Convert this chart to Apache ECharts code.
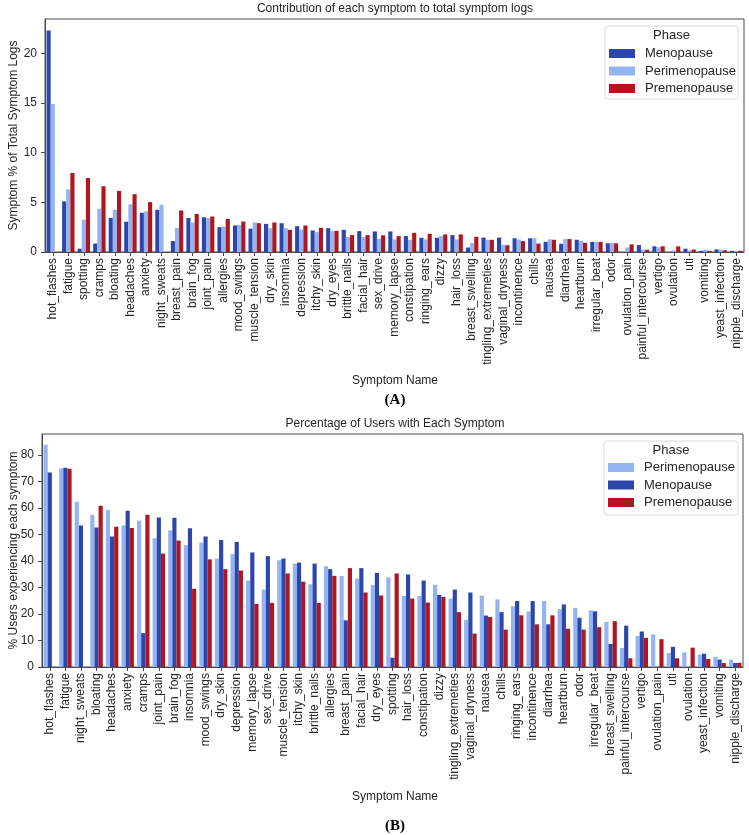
<!DOCTYPE html>
<html>
<head>
<meta charset="utf-8">
<script src="https://cdn.jsdelivr.net/npm/echarts@6/dist/echarts.min.js"></script>
<style>
html,body{margin:0;padding:0;background:#fff;}
#chart{width:749px;height:835px;}
</style>
</head>
<body>
<div id="chart"></div>
<script>
const categoriesA = ["hot_flashes","fatigue","spotting","cramps","bloating","headaches","anxiety","night_sweats","breast_pain","brain_fog","joint_pain","allergies","mood_swings","muscle_tension","dry_skin","insomnia","depression","itchy_skin","dry_eyes","brittle_nails","facial_hair","sex_drive","memory_lapse","constipation","ringing_ears","dizzy","hair_loss","breast_swelling","tingling_extremeties","vaginal_dryness","incontinence","chills","nausea","diarrhea","heartburn","irregular_beat","odor","ovulation_pain","painful_intercourse","vertigo","ovulation","uti","vomiting","yeast_infection","nipple_discharge"];
const menoA = [22.3,5.1,0.33,0.85,3.43,3.05,3.95,4.25,1.1,3.43,3.5,2.5,2.67,2.35,2.83,2.9,2.6,2.17,2.4,2.23,2.1,2.07,2.07,1.6,1.43,1.43,1.7,0.45,1.45,1.45,1.38,1.38,1.02,0.83,1.23,1.02,0.88,null,0.7,0.57,null,0.33,0.12,0.27,0.12];
const periA = [14.9,6.3,3.25,4.35,4.25,4.8,4.1,4.75,2.43,2.97,3.4,2.57,2.73,2.98,2.4,2.4,2.27,2.0,2.1,1.5,1.5,1.33,1.27,1.23,1.27,1.63,1.27,0.9,1.23,0.72,1.25,1.38,1.28,1.3,1.1,1.02,0.92,0.45,0.23,0.48,0.17,0.17,0.25,0.23,0.12];
const preA = [null,7.95,7.45,6.62,6.15,5.82,5.02,null,4.18,3.83,3.57,3.33,3.07,2.9,2.97,2.23,2.67,2.43,2.13,1.7,1.7,1.68,1.6,1.93,1.83,1.77,1.77,1.53,1.23,0.68,1.1,0.85,1.23,1.3,0.93,1.02,0.87,0.77,0.23,0.57,0.57,0.25,0.12,0.17,0.12];
const yTicksA = [0,5,10,15,20];

const categoriesB = ["hot_flashes","fatigue","night_sweats","bloating","headaches","anxiety","cramps","joint_pain","brain_fog","insomnia","mood_swings","dry_skin","depression","memory_lapse","sex_drive","muscle_tension","itchy_skin","brittle_nails","allergies","breast_pain","facial_hair","dry_eyes","spotting","hair_loss","constipation","dizzy","tingling_extremeties","vaginal_dryness","nausea","chills","ringing_ears","incontinence","diarrhea","heartburn","odor","irregular_beat","breast_swelling","painful_intercourse","vertigo","ovulation_pain","uti","ovulation","yeast_infection","vomiting","nipple_discharge"];
const periB = [83.8,74.9,62.3,57.4,59.2,53.4,55.2,48.6,51.6,46.0,46.9,40.9,42.6,32.6,29.2,40.3,39.0,31.2,38.0,34.4,33.4,30.9,33.8,26.8,26.8,31.0,25.8,17.8,26.9,25.5,22.9,20.9,24.9,21.8,22.3,21.4,17.0,7.2,11.7,12.3,5.3,5.5,4.7,3.8,2.8];
const menoB = [73.4,75.2,53.4,52.6,49.2,58.9,12.8,56.4,56.3,52.3,49.2,47.9,47.2,43.2,41.8,40.9,39.4,39.0,36.9,17.6,37.3,35.5,3.5,34.9,32.6,27.2,29.2,28.1,19.4,20.7,24.9,24.9,16.1,23.6,18.6,21.0,8.7,15.6,13.4,null,7.6,null,5.0,2.8,1.5];
const preB = [null,74.8,null,60.8,52.9,52.4,57.4,42.8,47.7,29.5,40.6,36.9,36.4,23.8,24.2,35.3,32.2,24.2,34.4,37.3,28.1,27.0,35.3,25.8,24.3,26.4,20.7,12.6,18.9,14.1,19.5,16.1,19.5,14.4,14.1,15.0,17.3,3.3,11.0,10.5,3.3,7.3,3.0,1.5,1.6];
const yTicksB = [0,10,20,30,40,50,60,70,80];

const phases = ["Menopause","Perimenopause","Premenopause"];
const legendOrderB = ["Perimenopause","Menopause","Premenopause"];

const COL = {Menopause:'#2c46ab', Perimenopause:'#93b3f1', Premenopause:'#b0161f'};
const FONT = 'Liberation Sans, Arial, sans-serif';
const AX = '#4a4a4a';
const TXT = '#262626';

const chart = echarts.init(document.getElementById('chart'), null, {renderer:'canvas'});

function xAx(gi, cats){
  return {
    type:'category', gridIndex:gi, data:cats,
    axisLine:{show:true, lineStyle:{color:AX, width:1}},
    axisTick:{show:true, alignWithLabel:true, length:4, lineStyle:{color:AX}},
    axisLabel:{rotate:90, interval:0, fontSize:12, fontFamily:FONT, color:TXT, margin:6},
    splitLine:{show:false}
  };
}
function yAx(gi, max, ticks, name, gap){
  return {
    type:'value', gridIndex:gi, min:0, max:max,
    name:name, nameLocation:'middle', nameGap:gap, nameRotate:90, nameMoveOverlap:false,
    nameTextStyle:{fontSize:12, fontFamily:FONT, color:TXT},
    axisLine:{show:true, lineStyle:{color:AX, width:1}},
    axisTick:{show:true, length:4, lineStyle:{color:AX}, customValues:ticks},
    axisLabel:{fontSize:12, fontFamily:FONT, color:TXT, margin:8, customValues:ticks},
    splitLine:{show:false}
  };
}
function bar(name, data, xi){
  return {
    type:'bar', name:name, data:data, xAxisIndex:xi, yAxisIndex:xi,
    barGap:'0%', barCategoryGap:'20%',
    itemStyle:{color:COL[name]}, emphasis:{disabled:true}, animation:false
  };
}
function legendBox(x, y, w, h){
  return [
    {type:'rect', shape:{x:x, y:y, width:w, height:h, r:3}, style:{fill:'#fff', stroke:'#d9d9d9', lineWidth:1}, z:10},
    {type:'text', x:x + w/2, y:y + 9, style:{text:'Phase', fontSize:13, fontFamily:FONT, fill:TXT, textAlign:'center', textVerticalAlign:'middle'}, z:11}
  ];
}
function label(text, x, y, size, bold, serif){
  return {type:'text', x:x, y:y, style:{text:text, fontSize:size, fontFamily: serif ? 'Liberation Serif, Times New Roman, serif' : FONT, fontWeight: bold ? 'bold':'normal', fill: serif ? '#000' : TXT, textAlign:'center', textVerticalAlign:'middle'}, z:11};
}

const option = {
  animation:false,
  backgroundColor:'#fff',
  grid:[
    {left:45, right:5, top:19, height:233, show:true, borderColor:AX, borderWidth:1, containLabel:false, outerBoundsMode:'none'},
    {left:42, right:6, top:434, height:233, show:true, borderColor:AX, borderWidth:1, containLabel:false, outerBoundsMode:'none'}
  ],
  xAxis:[xAx(0, categoriesA), xAx(1, categoriesB)],
  yAxis:[yAx(0, 23.45, yTicksA, 'Symptom % of Total Symptom Logs', 25), yAx(1, 87.9, yTicksB, '% Users experiencing each symptom', 22)],
  legend:[
    {data:phases, orient:'vertical', left:609, top:47, padding:0, itemWidth:26, itemHeight:9, itemGap:4.5, icon:'rect',
     textStyle:{fontSize:13, fontFamily:FONT, color:TXT, lineHeight:13, padding:[0,0,0,5]}, selectedMode:false, z:12},
    {data:legendOrderB, orient:'vertical', left:608, top:461, padding:0, itemWidth:26, itemHeight:9, itemGap:4.5, icon:'rect',
     textStyle:{fontSize:13, fontFamily:FONT, color:TXT, lineHeight:13, padding:[0,0,0,5]}, selectedMode:false, z:12}
  ],
  series:[
    bar('Menopause', menoA, 0), bar('Perimenopause', periA, 0), bar('Premenopause', preA, 0),
    bar('Perimenopause', periB, 1), bar('Menopause', menoB, 1), bar('Premenopause', preB, 1)
  ],
  graphic:[
    label('Contribution of each symptom to total symptom logs', 395, 9, 12),
    label('Percentage of Users with Each Symptom', 395, 424, 12),
    label('Symptom Name', 395, 381, 12),
    label('(A)', 395, 400, 15, true, true),
    label('Symptom Name', 395, 797, 12),
    label('(B)', 395, 826, 15, true, true)
  ].concat(legendBox(605, 26, 133, 73)).concat(legendBox(604, 441, 134, 74))
};
chart.setOption(option);
</script>
</body>
</html>
